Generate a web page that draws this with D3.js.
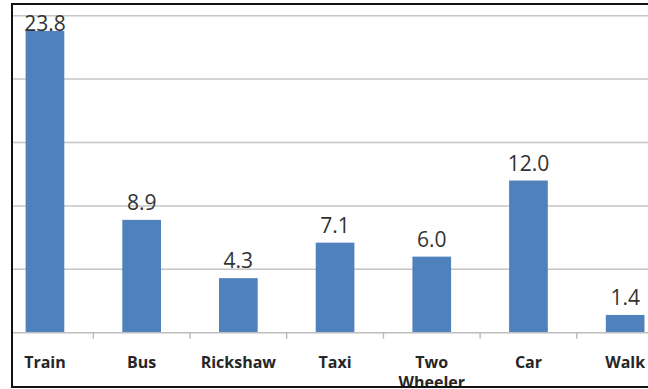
<!DOCTYPE html>
<html>
<head>
<meta charset="utf-8">
<script src="https://cdn.jsdelivr.net/npm/d3@7/dist/d3.min.js"></script>
<style>
  body { margin: 0; background: #fff; }
  svg { display: block; }
</style>
</head>
<body>
<div id="chart"></div>
<script>
var categories = ["Train", "Bus", "Rickshaw", "Taxi", "Two Wheeler", "Car", "Walk"];
var values = [23.8, 8.9, 4.3, 7.1, 6.0, 12.0, 1.4];
var gridValues = [5, 10, 15, 20, 25];

var width = 648, height = 389;

var svg = d3.select("#chart")
    .append("svg")
    .attr("width", width)
    .attr("height", height);

var x = d3.scaleBand()
    .domain(categories)
    .range([-3.4, 673.5])
    .paddingInner(0.6)
    .paddingOuter(0.3);

var y = d3.scaleLinear()
    .domain([0, 25])
    .range([332.7, 15.7]);

// gridlines
svg.selectAll(".grid")
    .data(gridValues)
    .enter()
    .append("line")
    .attr("class", "grid")
    .attr("x1", 12)
    .attr("x2", width)
    .attr("y1", function(d) { return y(d); })
    .attr("y2", function(d) { return y(d); })
    .attr("stroke", "#c4c4c4")
    .attr("stroke-width", 1.5);

// bars
svg.selectAll(".bar")
    .data(values)
    .enter()
    .append("rect")
    .attr("class", "bar")
    .attr("x", function(d, i) { return x(categories[i]); })
    .attr("width", x.bandwidth())
    .attr("y", function(d) { return y(d); })
    .attr("height", function(d) { return y(0) - y(d); })
    .attr("fill", "#4f81bd");

// baseline + ticks
svg.append("line")
    .attr("x1", 12).attr("x2", width)
    .attr("y1", y(0)).attr("y2", y(0))
    .attr("stroke", "#bdbdbd")
    .attr("stroke-width", 1.5);

svg.selectAll(".tick")
    .data(categories.slice(1))
    .enter()
    .append("line")
    .attr("class", "tick")
    .attr("x1", function(d) { return x(d) - x.step() * 0.3; })
    .attr("x2", function(d) { return x(d) - x.step() * 0.3; })
    .attr("y1", y(0))
    .attr("y2", y(0) + 6)
    .attr("stroke", "#bdbdbd")
    .attr("stroke-width", 1.5);

// value labels
svg.selectAll(".val")
    .data(values)
    .enter()
    .append("text")
    .attr("class", "val")
    .attr("x", function(d, i) { return x(categories[i]) + x.bandwidth() / 2; })
    .attr("y", function(d) { return Math.max(y(d) - 10, y(25) + 15); })
    .attr("text-anchor", "middle")
    .attr("font-family", "'Open Sans', sans-serif")
    .attr("font-size", 21)
    .attr("fill", "#333")
    .text(function(d) { return d.toFixed(1); });

// category labels
var cat = svg.selectAll(".cat")
    .data(categories)
    .enter()
    .append("text")
    .attr("class", "cat")
    .attr("text-anchor", "middle")
    .attr("font-family", "'Open Sans', sans-serif")
    .attr("font-weight", "bold")
    .attr("font-size", 16)
    .attr("fill", "#262626");

cat.selectAll("tspan")
    .data(function(d) { return d.split(" ").map(function(w) { return { w: w, c: d }; }); })
    .enter()
    .append("tspan")
    .attr("x", function(d) { return x(d.c) + x.bandwidth() / 2; })
    .attr("y", function(d, i) { return 368 + i * 20; })
    .text(function(d) { return d.w; });

// chart border
svg.append("path")
    .attr("d", "M" + width + ",4 H12 V387 H" + width)
    .attr("fill", "none")
    .attr("stroke", "#111")
    .attr("stroke-width", 2);
</script>
</body>
</html>
